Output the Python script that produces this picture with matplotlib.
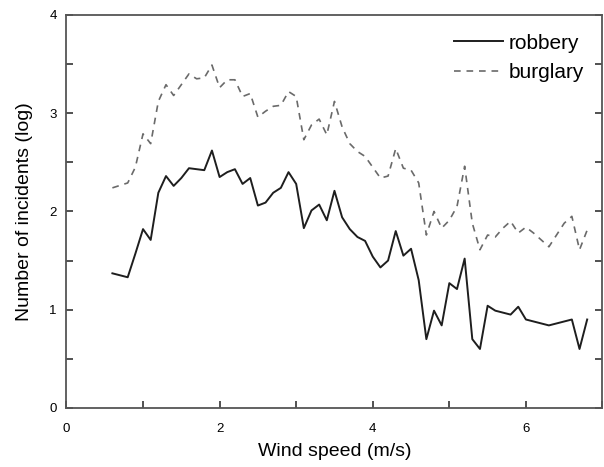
import matplotlib
matplotlib.use('Agg')
from matplotlib import pyplot as plt
from matplotlib.ticker import MultipleLocator

plt.rcParams['font.family'] = ['Liberation Sans', 'DejaVu Sans']

# wind speed (m/s)
rob_x = [0.6, 0.8, 0.9, 1.0, 1.1, 1.2, 1.3, 1.4, 1.5, 1.6, 1.7, 1.8, 1.9, 2.0,
         2.1, 2.2, 2.3, 2.4, 2.5, 2.6, 2.7, 2.8, 2.9, 3.0, 3.1, 3.2, 3.3, 3.4,
         3.5, 3.6, 3.7, 3.8, 3.9, 4.0, 4.1, 4.2, 4.3, 4.4, 4.5, 4.6, 4.7, 4.8,
         4.9, 5.0, 5.1, 5.2, 5.3, 5.4, 5.5, 5.6, 5.8, 5.9, 6.0, 6.3, 6.6, 6.7, 6.8]
robbery = [1.37, 1.33, 1.57, 1.82, 1.71, 2.19, 2.36, 2.26, 2.34, 2.44, 2.43, 2.42,
           2.62, 2.35, 2.40, 2.43, 2.28, 2.34, 2.06, 2.09, 2.19, 2.24, 2.40, 2.28,
           1.83, 2.01, 2.07, 1.91, 2.21, 1.94, 1.82, 1.74, 1.70, 1.54, 1.43, 1.50,
           1.80, 1.55, 1.62, 1.30, 0.70, 0.99, 0.84, 1.27, 1.21, 1.52, 0.70, 0.60,
           1.04, 0.99, 0.95, 1.03, 0.90, 0.84, 0.90, 0.60, 0.90]

bur_x = [0.6, 0.8, 0.9, 1.0, 1.1, 1.2, 1.3, 1.4, 1.5, 1.6, 1.7, 1.8, 1.9, 2.0,
         2.1, 2.2, 2.3, 2.4, 2.5, 2.6, 2.7, 2.8, 2.9, 3.0, 3.1, 3.2, 3.3, 3.4,
         3.5, 3.6, 3.7, 3.8, 3.9, 4.0, 4.1, 4.2, 4.3, 4.4, 4.5, 4.6, 4.7, 4.8,
         4.9, 5.0, 5.1, 5.2, 5.3, 5.4, 5.5, 5.6, 5.7, 5.8, 5.9, 6.0, 6.1, 6.3,
         6.5, 6.6, 6.7, 6.8]
burglary = [2.24, 2.29, 2.45, 2.79, 2.69, 3.12, 3.29, 3.18, 3.29, 3.40, 3.35, 3.36,
            3.49, 3.26, 3.34, 3.34, 3.17, 3.20, 2.96, 3.02, 3.07, 3.08, 3.22, 3.17,
            2.73, 2.88, 2.94, 2.78, 3.12, 2.86, 2.69, 2.61, 2.56, 2.45, 2.34, 2.36,
            2.64, 2.44, 2.42, 2.29, 1.76, 2.00, 1.83, 1.91, 2.05, 2.46, 1.88, 1.61,
            1.76, 1.74, 1.83, 1.90, 1.78, 1.84, 1.78, 1.64, 1.88, 1.95, 1.61, 1.81]

fig = plt.figure(figsize=(6.04, 4.67), dpi=100)
ax = fig.add_axes([0.110, 0.1265, 0.8875, 0.8415])

ax.plot(rob_x, robbery, color='#1e1e1e', lw=1.4, label='robbery')
ax.plot(bur_x, burglary, color='#6a6a6a', lw=1.2, dashes=(4, 3.5), label='burglary')

ax.set_xlim(0, 7)
ax.set_ylim(0, 4)
ax.xaxis.set_major_locator(MultipleLocator(2))
ax.xaxis.set_minor_locator(MultipleLocator(1))
ax.yaxis.set_major_locator(MultipleLocator(1))
ax.yaxis.set_minor_locator(MultipleLocator(0.5))
ax.tick_params(which='both', direction='in', length=5, width=1.2, color='#333333',
               labelsize=9.5, right=True, top=False)
ax.tick_params(axis='x', which='both', pad=10.5)
ax.tick_params(axis='y', which='both', pad=7)
for s in ax.spines.values():
    s.set_color('#555555')
    s.set_linewidth(1.3)

ax.set_xlabel('Wind speed (m/s)', fontsize=14, labelpad=6)
ax.set_ylabel('Number of incidents (log)', fontsize=14, labelpad=12)

ax.legend(loc='upper right', frameon=False, fontsize=15, handlelength=2.35,
          handletextpad=0.25, labelspacing=0.5, borderaxespad=0.5)

fig.savefig('out.png', dpi=100)
